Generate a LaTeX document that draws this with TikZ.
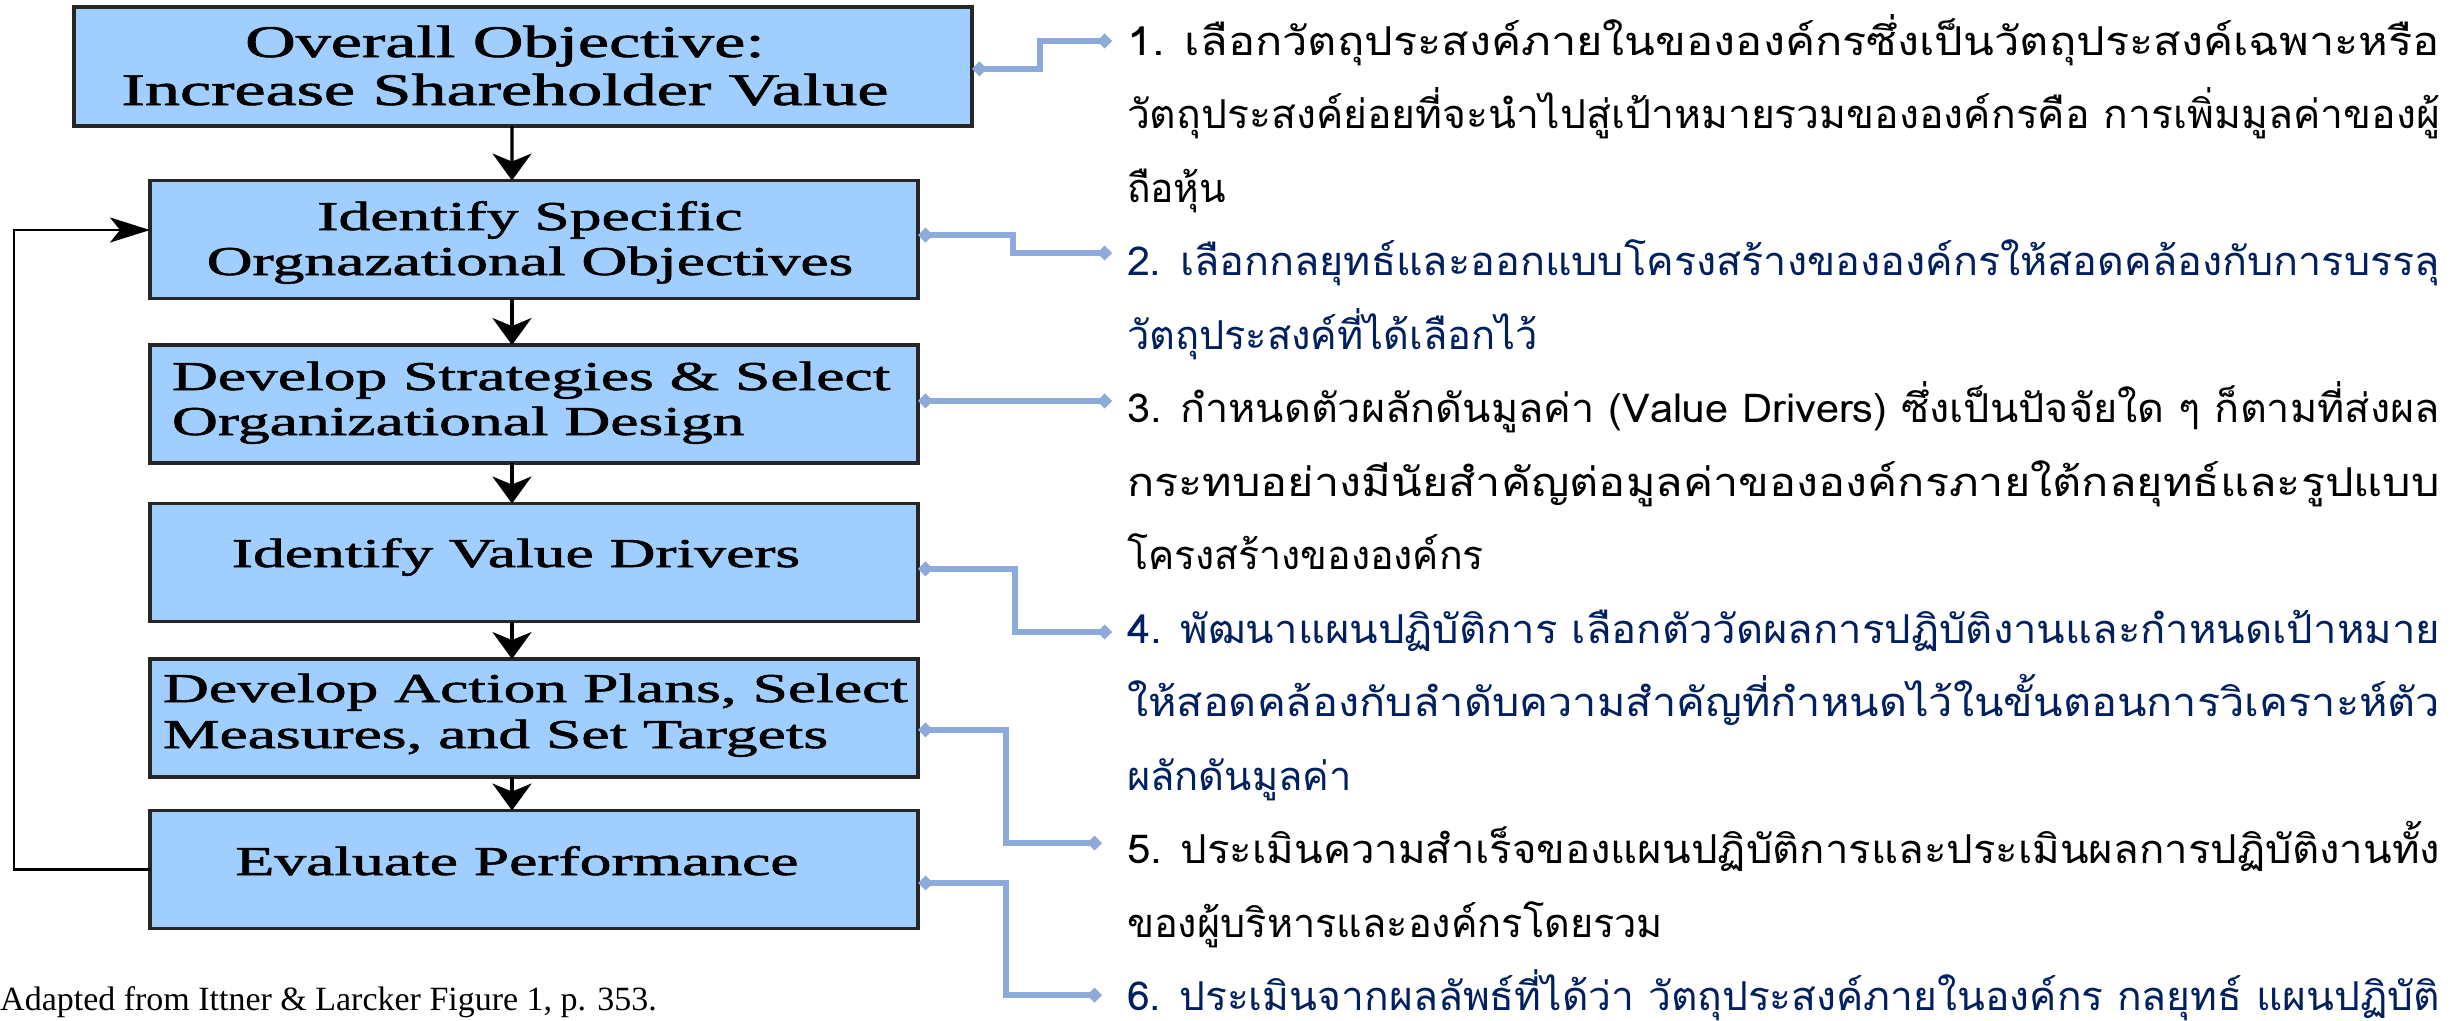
\documentclass[tikz,border=0pt]{standalone}
\usepackage{fontspec}
\usepackage{graphicx}
\setmainfont{Liberation Serif}
\newfontfamily\boxfont{Liberation Serif}[BoldFont={Liberation Serif}, BoldFeatures={FakeBold=1.3}]
\newfontfamily\thaifont[Script=Thai]{Loma}
\usetikzlibrary{arrows.meta}
\definecolor{boxfill}{RGB}{160,207,255}
\definecolor{linkblue}{RGB}{142,170,219}
\definecolor{navytext}{RGB}{0,32,96}
\newlength\px \setlength\px{0.85358pt}
\newlength\tlw
% box content: width, height, x (px from left), first baseline (px from top), c/l, stack
\newcommand\boxtxt[6]{\raisebox{0pt}[#4\px][\dimexpr #2\px-#4\px\relax]{\makebox[#1\px][l]{\hspace*{#3\px}\makebox[0pt][#5]{\scalebox{1.55}[1]{#6}}}}}
\newcommand\cstack[2]{\vtop{\baselineskip=#1\px\lineskiplimit=-1000pt\halign{\hfil##\hfil\cr#2\crcr}}}
\newcommand\lstack[2]{\vtop{\baselineskip=#1\px\lineskiplimit=-1000pt\halign{##\hfil\cr#2\crcr}}}
\newcommand\tline[2]{\hbox{\settowidth\tlw{#2}\pgfmathsetmacro\tlsf{#1*0.85358/\tlw}\scalebox{\tlsf}[1]{#2}}}
\newcommand\thpara[1]{\vtop{\baselineskip=62.74pt\lineskiplimit=-1000pt #1}}
\begin{document}
\begin{tikzpicture}[x=0.3mm,y=-0.3mm,
  flowbox/.style={draw=black!85, line width=2.6pt, fill=boxfill, inner sep=0pt, outer sep=0pt,
    minimum width=655.5pt, minimum height=100.7pt, font=\boxfont\bfseries\fontsize{35}{42}\selectfont},
  bigbox/.style={flowbox, minimum width=766.5pt, minimum height=101.6pt, font=\boxfont\bfseries\fontsize{38.6}{46}\selectfont},
  down/.style={draw=black, line width=2.6pt, -{Stealth[length=23pt,width=33.3pt,inset=6.8pt]}},
  fb/.style={draw=black, line width=2.2pt, -{Stealth[length=34.1pt,width=21.3pt,inset=8.5pt]}},
  link/.style={draw=linkblue, line width=4.9pt,
    arrows={Diamond[length=12.8pt,width=12.8pt]-Diamond[length=12.8pt,width=12.8pt]}},
  thaipara/.style={anchor=base west, inner sep=0pt, outer sep=0pt,
    font=\thaifont\fontsize{34}{40}\selectfont},
  caption/.style={anchor=base west, inner sep=0pt, font=\fontsize{29}{34}\selectfont}]
\fill[white] (0,0) rectangle (2455,1020);
\useasboundingbox (0,0) rectangle (2455,1020);

% flow boxes
\node[bigbox] (b1) at (523,66.5) {\boxtxt{898}{119}{431}{50}{c}{\cstack{48}{Overall Objective:\cr Increase Shareholder Value}}};
\node[flowbox] (b2) at (534,239.5) {\boxtxt{768}{118}{380}{49.5}{c}{\cstack{45}{Identify Specific\cr Orgnazational Objectives}}};
\node[flowbox] (b3) at (534,404) {\boxtxt{768}{118}{22}{45}{l}{\lstack{45}{Develop Strategies \& Select\cr Organizational Design}}};
\node[flowbox] (b4) at (534,562.5) {\boxtxt{768}{118}{366}{63.5}{c}{Identify Value Drivers}};
\node[flowbox] (b5) at (534,718) {\boxtxt{768}{118}{13}{43}{l}{\lstack{46}{Develop Action Plans, Select\cr Measures, and Set Targets}}};
\node[flowbox] (b6) at (534,869.5) {\boxtxt{768}{118}{367}{64.5}{c}{Evaluate Performance}};

\node[caption] (cap) at (0,1010) {Adapted from Ittner \& Larcker Figure 1, p. 353.};

% flow arrows
\draw[down] ([xshift=-9.4pt]b1.south) -- ([xshift=-18.8pt]b2.north);
\draw[down] ([xshift=-18.8pt]b2.south) -- ([xshift=-18.8pt]b3.north);
\draw[down] ([xshift=-18.8pt]b3.south) -- ([xshift=-18.8pt]b4.north);
\draw[down] ([xshift=-18.8pt]b4.south) -- ([xshift=-18.8pt]b5.north);
\draw[down] ([xshift=-18.8pt]b5.south) -- ([xshift=-18.8pt]b6.north);
\draw[fb] (b6.west) -- ++(-136,0) |- ([yshift=8.1pt]b2.west);

% Thai explanations
\node[thaipara] (t1) at (1127,55) {\thpara{%
  \tline{1313}{1. เลือกวัตถุประสงค์ภายในขององค์กรซึ่งเป็นวัตถุประสงค์เฉพาะหรือ}
  \tline{1313}{วัตถุประสงค์ย่อยที่จะนำไปสู่เป้าหมายรวมขององค์กรคือ การเพิ่มมูลค่าของผู้}
  \tline{99}{ถือหุ้น}}};
\node[thaipara, text=navytext] (t2) at (1127,275.5) {\thpara{%
  \tline{1313}{2. เลือกกลยุทธ์และออกแบบโครงสร้างขององค์กรให้สอดคล้องกับการบรรลุ}
  \tline{411}{วัตถุประสงค์ที่ได้เลือกไว้}}};
\node[thaipara] (t3) at (1127,422.5) {\thpara{%
  \tline{1313}{3. กำหนดตัวผลักดันมูลค่า (Value Drivers) ซึ่งเป็นปัจจัยใด ๆ ก็ตามที่ส่งผล}
  \tline{1313}{กระทบอย่างมีนัยสำคัญต่อมูลค่าขององค์กรภายใต้กลยุทธ์และรูปแบบ}
  \tline{357}{โครงสร้างขององค์กร}}};
\node[thaipara, text=navytext] (t4) at (1127,643) {\thpara{%
  \tline{1313}{4. พัฒนาแผนปฏิบัติการ เลือกตัววัดผลการปฏิบัติงานและกำหนดเป้าหมาย}
  \tline{1313}{ให้สอดคล้องกับลำดับความสำคัญที่กำหนดไว้ในขั้นตอนการวิเคราะห์ตัว}
  \tline{225}{ผลักดันมูลค่า}}};
\node[thaipara] (t5) at (1127,863.5) {\thpara{%
  \tline{1313}{5. ประเมินความสำเร็จของแผนปฏิบัติการและประเมินผลการปฏิบัติงานทั้ง}
  \tline{536}{ของผู้บริหารและองค์กรโดยรวม}}};
\node[thaipara, text=navytext] (t6) at (1127,1010.5) {\thpara{%
  \tline{1313}{6. ประเมินจากผลลัพธ์ที่ได้ว่า วัตถุประสงค์ภายในองค์กร กลยุทธ์ แผนปฏิบัติ}}};

% connector ends
\coordinate (e1) at (1112,41);
\coordinate (e2) at (1112,253);
\coordinate (e3) at (1112,401);
\coordinate (e4) at (1112,632);
\coordinate (e5) at (1102,843);
\coordinate (e6) at (1102,995);

\draw[link] ([yshift=-2.1pt]b1.east) -- (1040,69) |- (e1);
\draw[link] ([yshift=3.8pt]b2.east) -- (1013,235) |- (e2);
\draw[link] ([yshift=2.6pt]b3.east) -- (e3);
\draw[link] ([yshift=-5.5pt]b4.east) -- (1015,569) |- (e4);
\draw[link] ([yshift=-10.2pt]b5.east) -- (1006,730) |- (e5);
\draw[link] ([yshift=-11.5pt]b6.east) -- (1006,883) |- (e6);
\end{tikzpicture}
\end{document}
